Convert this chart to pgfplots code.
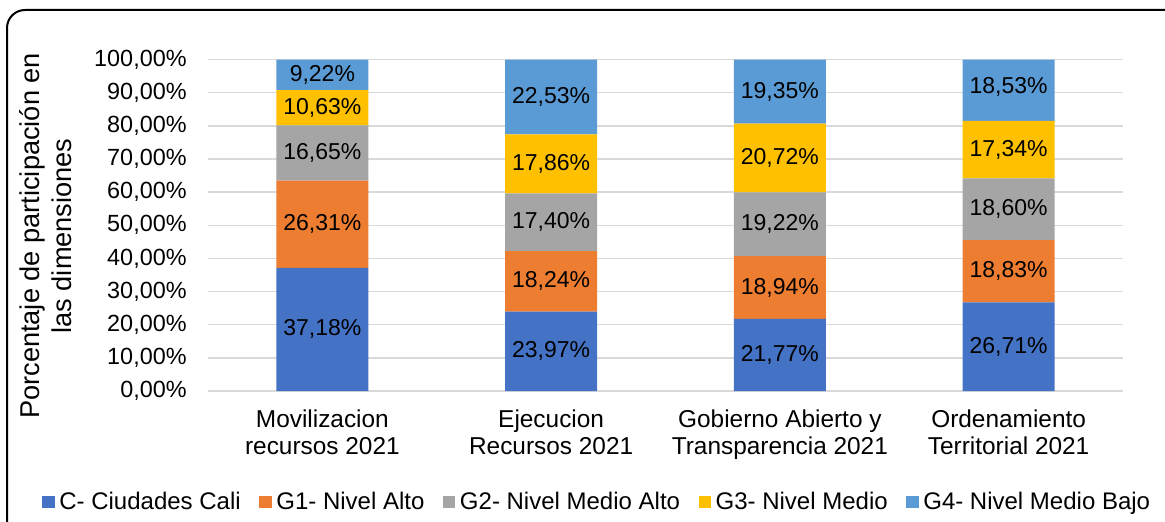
\documentclass[border=0pt]{standalone}
\usepackage{fontspec}
\setmainfont{Liberation Sans}
\usepackage{pgfplots}
\pgfplotsset{compat=1.18}
\definecolor{cali}{HTML}{4472C4}
\definecolor{alto}{HTML}{ED7D31}
\definecolor{medalto}{HTML}{A5A5A5}
\definecolor{medio}{HTML}{FFC000}
\definecolor{medbajo}{HTML}{5B9BD5}
\definecolor{gridc}{HTML}{D9D9D9}
\newcommand{\cf}{\fontsize{11.5}{14}\selectfont}
\newcommand{\tf}{\fontsize{11.7}{14}\selectfont}
\newcommand{\xf}{\fontsize{12.2}{13.5}\selectfont}
\newcommand{\lf}{\fontsize{12}{14}\selectfont}
\newcommand{\yf}{\fontsize{13.6}{16}\selectfont}

\begin{document}
\begin{tikzpicture}
\useasboundingbox (0,0) rectangle (582.5pt,260.5pt);
\draw[line width=1pt, rounded corners=9pt] (3.5pt,-12pt) rectangle (592pt,255.5pt);

\begin{axis}[
  at={(104pt,65pt)}, anchor=south west,
  scale only axis, width=457.5pt, height=165.7pt,
  ybar stacked, bar width=46pt,
  xmin=-0.5, xmax=3.5, ymin=0, ymax=100,
  xtick={0,1,2,3},
  xticklabels={Movilizacion\\recursos 2021, Ejecucion\\Recursos 2021,
    Gobierno Abierto y\\Transparencia 2021, Ordenamiento\\Territorial 2021},
  xticklabel style={align=center, font=\xf, inner sep=0pt, yshift=-9pt},
  ytick={0,10,...,100},
  yticklabel={\pgfmathprintnumber[fixed,fixed zerofill,precision=2,use comma]{\tick}\%},
  /pgf/number format/assume math mode=true,
  yticklabel style={font=\tf, inner sep=0pt, xshift=-10.5pt},
  ymajorgrids, grid style={gridc, line width=0.75pt},
  axis line style={draw=none}, major tick length=0pt,
  ylabel={Porcentaje de participación en\\las dimensiones},
  ylabel style={at={(axis description cs:-0.178,0.468)}, anchor=center, align=center, font=\yf},
  legend columns=5,
  legend style={at={(0.4268,-0.335)}, anchor=center, draw=none, font=\lf,
    inner sep=0pt, nodes={inner sep=2.3pt},
    /tikz/every even column/.append style={column sep=7pt}},
  legend image code/.code={\fill[#1] (0pt,-3.1pt) rectangle (6.2pt,3.1pt);},
]
\addplot[fill=cali, draw=none] coordinates {(0,37.18) (1,23.97) (2,21.77) (3,26.71)};
\addlegendentry{C- Ciudades Cali}
\addplot[fill=alto, draw=none] coordinates {(0,26.31) (1,18.24) (2,18.94) (3,18.83)};
\addlegendentry{G1- Nivel Alto}
\addplot[fill=medalto, draw=none] coordinates {(0,16.65) (1,17.40) (2,19.22) (3,18.60)};
\addlegendentry{G2- Nivel Medio Alto}
\addplot[fill=medio, draw=none] coordinates {(0,10.63) (1,17.86) (2,20.72) (3,17.34)};
\addlegendentry{G3- Nivel Medio}
\addplot[fill=medbajo, draw=none] coordinates {(0,9.22) (1,22.53) (2,19.35) (3,18.53)};
\addlegendentry{G4- Nivel Medio Bajo}
\end{axis}

% data labels, centred in each segment
\begin{axis}[
  at={(104pt,65pt)}, anchor=south west,
  scale only axis, width=457.5pt, height=165.7pt,
  xmin=-0.5, xmax=3.5, ymin=0, ymax=100, hide axis,
]
\addplot[draw=none, mark=none, nodes near coords, point meta=explicit symbolic,
  every node near coord/.append style={anchor=center, font=\cf, text=black, inner sep=0pt}]
  coordinates {
  (0,18.59) [37,18\%] (0,50.335) [26,31\%] (0,71.815) [16,65\%] (0,85.455) [10,63\%] (0,95.38) [9,22\%]
  (1,11.985) [23,97\%] (1,33.09) [18,24\%] (1,50.91) [17,40\%] (1,68.54) [17,86\%] (1,88.735) [22,53\%]
  (2,10.885) [21,77\%] (2,31.24) [18,94\%] (2,50.32) [19,22\%] (2,70.29) [20,72\%] (2,90.325) [19,35\%]
  (3,13.355) [26,71\%] (3,36.125) [18,83\%] (3,54.84) [18,60\%] (3,72.81) [17,34\%] (3,91.745) [18,53\%]
  };
\end{axis}
\end{tikzpicture}
\end{document}
